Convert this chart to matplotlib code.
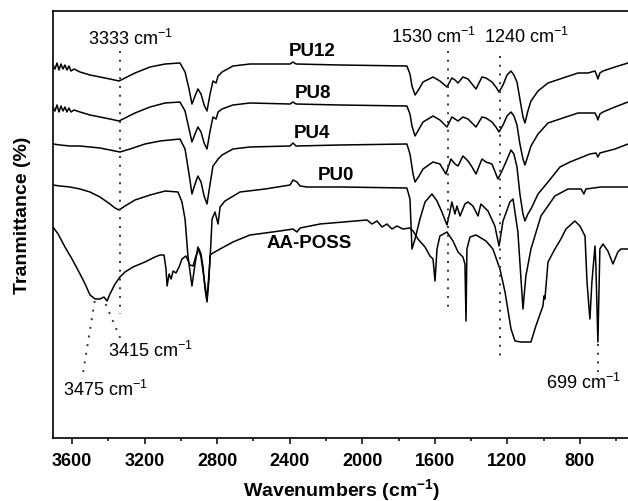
import matplotlib
matplotlib.use('Agg')
import matplotlib.pyplot as plt
from matplotlib.ticker import MultipleLocator

plt.rcParams['font.family'] = ['Liberation Sans', 'DejaVu Sans']
plt.rcParams['mathtext.default'] = 'regular'

# wavenumbers (cm-1) shared by the PU12 and PU8 traces
wn_pu_top = [3705, 3694, 3683, 3672, 3661, 3650, 3639, 3628, 3617, 3606, 3589,
             3556, 3501, 3446, 3391, 3341, 3308, 3253, 3170, 3087,
             3005, 2977, 2955, 2939, 2922, 2906, 2889, 2872, 2856, 2839, 2823, 2806, 2795, 2773, 2713,
             2619, 2398, 2382, 2365, 2123,
             1754, 1737, 1726, 1709, 1687, 1665, 1610,
             1572, 1533, 1506, 1489, 1472, 1445, 1417, 1395, 1373, 1340, 1318, 1285, 1263,
             1246, 1224, 1202, 1180, 1164, 1147, 1131, 1114, 1103, 1087, 1070,
             1031, 976, 910, 811, 756, 717, 706, 701, 690, 673, 607, 535]
t_pu12 = [373, 369, 375, 368, 374, 369, 373, 368, 372, 367, 369,
          366, 363, 361, 359, 357, 360, 365, 371, 374,
          375, 366, 349, 334, 342, 349, 344, 333, 327, 344, 357, 355, 362, 366, 372,
          374, 374, 376, 374, 373,
          372, 364, 352, 343, 349, 356, 361,
          357, 351, 360, 358, 355, 361, 359, 354, 349, 361, 360, 356, 351,
          346, 353, 363, 367, 363, 356, 339, 321, 315, 327, 337,
          347, 355, 359, 365, 365, 367, 362, 359, 365, 367, 371, 375]
t_pu8 = [331, 327, 333, 326, 332, 327, 331, 326, 330, 326, 328,
         326, 323, 321, 319, 317, 320, 325, 331, 335,
         336, 327, 309, 296, 304, 311, 306, 295, 289, 307, 321, 319, 326, 329, 333,
         335, 334, 336, 334, 333,
         332, 324, 312, 302, 309, 316, 322,
         318, 311, 321, 319, 317, 321, 319, 315, 311, 321, 320, 316, 311,
         306, 313, 322, 326, 322, 313, 294, 279, 273, 282, 292,
         304, 315, 319, 325, 325, 325, 321, 318, 324, 326, 331, 336]

wn_pu4 = [3705, 3666, 3611, 3556, 3501, 3446, 3391, 3336, 3280, 3198,
          3115, 3005, 2977, 2955, 2939, 2922, 2906, 2889, 2872, 2856,
          2839, 2823, 2806, 2795, 2773, 2713, 2619, 2398, 2382, 2365,
          2123, 1754, 1737, 1720, 1709, 1687, 1665, 1610, 1572, 1539,
          1511, 1489, 1472, 1445, 1417, 1395, 1373, 1340, 1318, 1285,
          1252, 1230, 1208, 1180, 1164, 1147, 1131, 1114, 1103, 1087,
          1070, 1031, 976, 910, 855, 745, 712, 701, 690, 607, 535]
t_pu4 = [294, 293, 292, 292, 291, 290, 288, 286, 289, 294,
         297, 299, 289, 264, 244, 254, 262, 256, 242, 234,
         254, 272, 276, 279, 283, 289, 291, 292, 295, 292,
         293, 294, 284, 264, 256, 262, 269, 276, 274, 264,
         279, 274, 272, 282, 277, 271, 264, 279, 276, 274,
         259, 267, 276, 288, 284, 271, 244, 224, 217, 224,
         229, 244, 256, 271, 276, 284, 285, 281, 285, 289, 294]

wn_pu0 = [3705, 3666, 3611, 3556, 3501, 3446, 3391, 3363, 3341, 3308,
          3253, 3170, 3087, 3016, 2994, 2977, 2961, 2939, 2922, 2906,
          2889, 2872, 2856, 2839, 2828, 2812, 2795, 2784, 2757, 2674,
          2536, 2398, 2382, 2360, 2343, 2305, 2123, 1754, 1737, 1726,
          1709, 1682, 1654, 1616, 1588, 1561, 1533, 1517, 1506, 1489,
          1478, 1461, 1434, 1417, 1390, 1362, 1346, 1307, 1269, 1246,
          1224, 1186, 1169, 1142, 1125, 1114, 1098, 1070, 1015, 938,
          866, 794, 778, 767, 684, 535]
t_pu0 = [253, 252, 251, 249, 246, 241, 234, 230, 228, 232,
         238, 243, 247, 246, 236, 219, 182, 152, 174, 191,
         181, 159, 139, 179, 219, 226, 214, 231, 237, 246,
         249, 253, 258, 256, 252, 251, 251, 250, 239, 189,
         199, 219, 236, 244, 237, 226, 213, 226, 236, 224,
         232, 222, 234, 236, 232, 222, 234, 227, 212, 192,
         217, 236, 239, 206, 159, 129, 162, 189, 222, 242,
         249, 249, 244, 249, 251, 251]

wn_poss = [3705, 3677, 3639, 3600, 3556, 3528, 3501, 3473, 3446, 3424,
           3407, 3391, 3363, 3336, 3308, 3264, 3198, 3143, 3115, 3093,
           3082, 3076, 3065, 3054, 3043, 3027, 3010, 2994, 2972, 2950,
           2933, 2917, 2900, 2889, 2878, 2867, 2856, 2845, 2839, 2823,
           2784, 2713, 2619, 2454, 2382, 2360, 2343, 2233, 1974, 1946,
           1919, 1891, 1864, 1836, 1809, 1776, 1737, 1720, 1693, 1654,
           1627, 1610, 1599, 1588, 1572, 1533, 1500, 1472, 1445, 1434,
           1428, 1423, 1406, 1373, 1318, 1280, 1241, 1213, 1180, 1158,
           1125, 1070, 1043, 1004, 998, 993, 976, 938, 905, 877,
           828, 800, 772, 761, 745, 734, 717, 712, 701, 690,
           673, 646, 618, 591, 574, 535]
t_poss = [211, 204, 191, 179, 164, 154, 143, 139, 139, 141,
          137, 144, 154, 161, 166, 171, 176, 181, 183, 183,
          169, 152, 164, 159, 167, 165, 171, 179, 182, 173,
          172, 182, 189, 184, 171, 149, 136, 159, 183, 185,
          189, 196, 203, 207, 209, 206, 210, 214, 218, 214,
          217, 211, 214, 209, 212, 209, 210, 207, 199, 191,
          182, 179, 157, 189, 202, 206, 197, 186, 181, 174,
          117, 189, 201, 203, 197, 189, 169, 146, 109, 97,
          96, 96, 112, 132, 142, 139, 176, 189, 199, 209,
          217, 212, 202, 156, 119, 156, 192, 172, 96, 189,
          194, 187, 174, 186, 189, 189]

curve_names = ['PU12', 'PU8', 'PU4', 'PU0', 'AA-POSS']
name_x = [2277, 2272, 2277, 2145, 2294]
name_y = [387, 345, 305, 263, 196]

fig = plt.figure(figsize=(6.28, 5.02), dpi=100)
ax = fig.add_axes([53 / 628, 63 / 502, 575 / 628, 427 / 502])

for wn, t in [(wn_pu_top, t_pu12), (wn_pu_top, t_pu8), (wn_pu4, t_pu4),
              (wn_pu0, t_pu0), (wn_poss, t_poss)]:
    ax.plot(wn, t, color='black', lw=1.1)

for name, x, y in zip(curve_names, name_x, name_y):
    ax.text(x, y, name, fontsize=13.5, fontweight='bold', ha='center', va='center')

# dotted guide lines to the marked bands
dots = dict(color='#333333', lw=1.4, ls=(0, (1, 3.5)))
ax.plot([3333, 3333], [387, 124], **dots)
ax.plot([1530, 1530], [387, 127], **dots)
ax.plot([1240, 1240], [382, 77], **dots)
ax.plot([699, 699], [94, 66], **dots)
ax.plot([3415, 3325], [134, 96], **dots)
ax.plot([3475, 3545], [137, 59], **dots)

ann = dict(fontsize=13, ha='center', va='center')
ax.text(3280, 400, '3333 cm$^{-1}$', **ann)
ax.text(1605, 402, '1530 cm$^{-1}$', **ann)
ax.text(1092, 402, '1240 cm$^{-1}$', **ann)
ax.text(3165, 88, '3415 cm$^{-1}$', **ann)
ax.text(3413, 49, '3475 cm$^{-1}$', **ann)
ax.text(783, 56, '699 cm$^{-1}$', **ann)

ax.set_xlim(3705, 535)
ax.set_ylim(0, 427)
ax.set_yticks([])
ax.xaxis.set_major_locator(MultipleLocator(400))
ax.xaxis.set_minor_locator(MultipleLocator(200))
ax.tick_params(axis='x', which='major', length=4, width=1.1, pad=6, labelsize=13)
ax.tick_params(axis='x', which='minor', length=2.2, width=1.1)
for lbl in ax.get_xticklabels():
    lbl.set_fontweight('bold')
ax.spines['right'].set_visible(False)
for s in ['left', 'top', 'bottom']:
    ax.spines[s].set_linewidth(1.2)

fig.text(342 / 628, 1 - 490 / 502, 'Wavenumbers (cm$^{-1}$)', fontsize=14,
         fontweight='bold', ha='center', va='center')
fig.text(23 / 628, 1 - 215 / 502, 'Tranmittance (%)', fontsize=14,
         fontweight='bold', ha='center', va='center', rotation=90)

fig.savefig('out.png', dpi=100)
